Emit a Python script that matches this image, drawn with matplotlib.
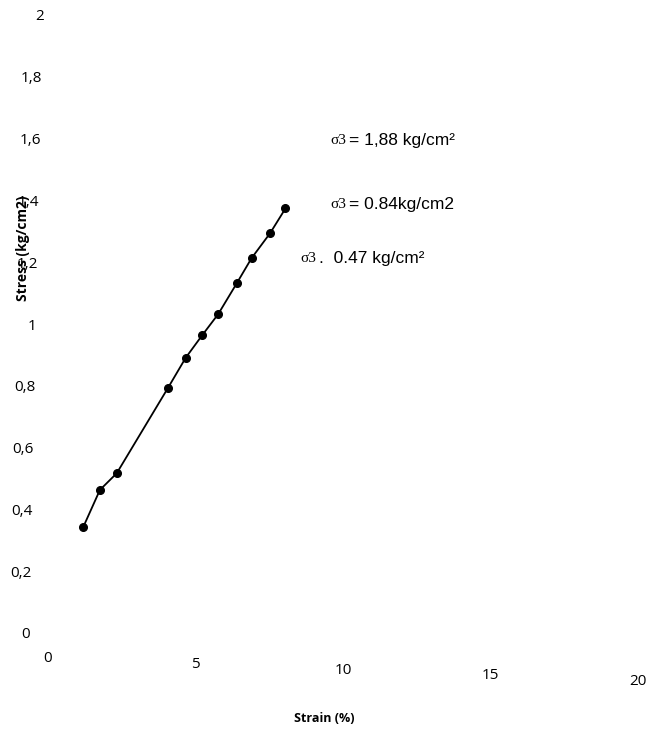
#import libraries
import matplotlib
matplotlib.use("Agg")
import matplotlib.pyplot as plt
from matplotlib.transforms import ScaledTranslation

#data
strain = [1.20, 1.76, 2.33, 4.06, 4.67, 5.23, 5.77, 6.40, 6.90, 7.53, 8.05]
stress = [0.344, 0.463, 0.517, 0.792, 0.891, 0.964, 1.032, 1.132, 1.213, 1.294, 1.374]

x_ticks = [0, 5, 10, 15, 20]
x_tick_labels = ["0", "5", "10", "15", "20"]
y_ticks = [0, 0.2, 0.4, 0.6, 0.8, 1, 1.2, 1.4, 1.6, 1.8, 2]
y_tick_labels = ["0", "0,2", "0,4", "0,6", "0,8", "1", "1,2", "1,4", "1,6", "1,8", "2"]

sigma_values = ["= 1,88 kg/cm²", "= 0.84kg/cm2", ".  0.47 kg/cm²"]
sigma_x = [9.56, 9.56, 8.54]
sigma_y = [1.595, 1.388, 1.213]

plt.rcParams['font.family'] = ['Open Sans', 'DejaVu Sans']

fig = plt.figure(figsize=(6.5, 7.31), dpi=100)
ax = fig.add_axes([48/650, 1 - 633/731, 590/650, 618/731])

#curve and points
ax.plot(strain, stress, color="black", linewidth=1.3)
ax.plot(strain, stress, "o", color="black", markersize=5.5)

#confining pressure labels (sigma in a serif face like the scan)
for val, xx, yy in zip(sigma_values, sigma_x, sigma_y):
    ax.text(xx, yy, "σ3", fontsize=11, va="center", ha="left",
            family=["Liberation Serif", "DejaVu Serif"])
    ax.annotate(val, (xx, yy), xytext=(14, 0), textcoords="offset points",
                fontsize=12.5, va="center", ha="left",
                family=["Liberation Sans", "DejaVu Sans"])

ax.set_xlim(0, 20)
ax.set_ylim(0, 2)
ax.set_xticks(x_ticks)
ax.set_xticklabels(x_tick_labels)
ax.set_yticks(y_ticks)
ax.set_yticklabels(y_tick_labels)
ax.tick_params(axis="both", length=0, labelsize=11)
ax.tick_params(axis="x", pad=13)
ax.tick_params(axis="y", pad=3)
for s in ax.spines.values():
    s.set_visible(False)

#the scan is slightly tilted, so the tick labels drift
for t, v in zip(ax.xaxis.get_major_ticks(), x_ticks):
    lab = t.label1
    lab.set_transform(lab.get_transform() + ScaledTranslation(0, -v / 20 * 0.23, fig.dpi_scale_trans))
for t, v in zip(ax.yaxis.get_major_ticks(), y_ticks):
    lab = t.label1
    lab.set_transform(lab.get_transform() + ScaledTranslation(-(2 - v) / 2 * 0.14, 0, fig.dpi_scale_trans))

ax.set_xlabel("Strain (%)", fontsize=9, fontweight="bold")
ax.xaxis.label.set_va("center")
ax.xaxis.set_label_coords(0.469, -0.138)
ax.set_ylabel("Stress (kg/cm2)", fontsize=10, fontweight="bold")
ax.yaxis.label.set_va("center")
ax.yaxis.set_label_coords(-0.042, 0.623)

plt.savefig("out.png", dpi=100)
